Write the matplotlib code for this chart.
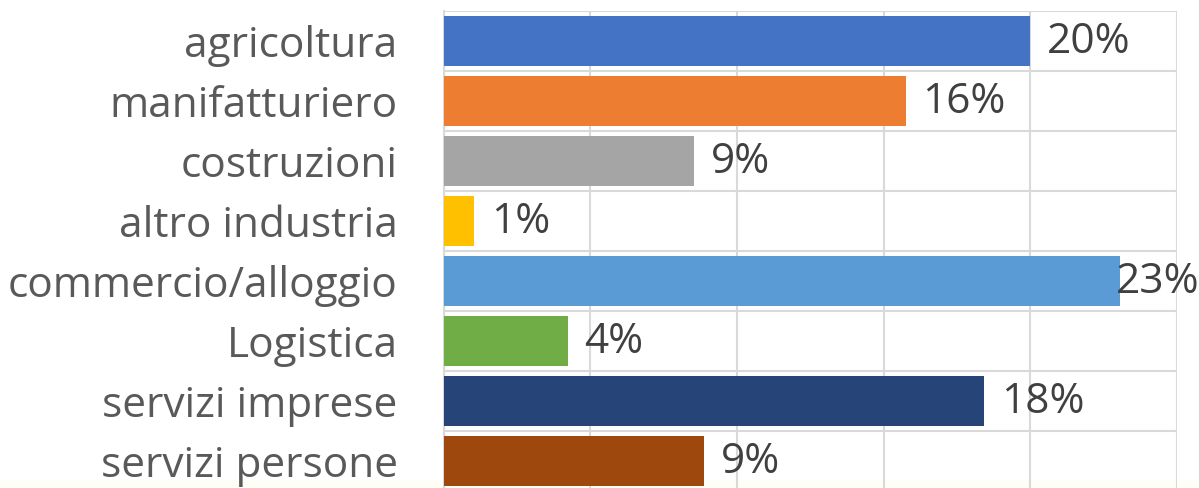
import matplotlib.pyplot as plt
from matplotlib.patches import Rectangle
from matplotlib.ticker import MultipleLocator

categories = ['agricoltura', 'manifatturiero', 'costruzioni', 'altro industria',
              'commercio/alloggio', 'Logistica', 'servizi imprese', 'servizi persone']
values = [20.0, 15.76, 8.55, 1.04, 23.06, 4.23, 18.43, 8.89]
labels = ['20%', '16%', '9%', '1%', '23%', '4%', '18%', '9%']
colors = ['#4472C4', '#ED7D31', '#A5A5A5', '#FFC000',
          '#5B9BD5', '#70AD47', '#264478', '#9E480E']

plt.rcParams['font.family'] = ['Open Sans', 'DejaVu Sans']

fig = plt.figure(figsize=(11.99, 4.88), dpi=100)
# faint cream strip along the bottom edge (slide background)
fig.patches.append(Rectangle((0, 0), 1, 8 / 488, transform=fig.transFigure,
                             facecolor='#FEFEF6', edgecolor='none', zorder=0))

ax = fig.add_axes([443.5 / 1199, (488 - 491) / 488, (1177 - 443.5) / 1199, 480 / 488])
ax.set_facecolor('none')
ax.set_zorder(2)

y = list(range(len(categories)))
ax.barh(y, values, height=0.83, color=colors, zorder=3)

ax.set_xlim(0, 25)
ax.set_ylim(len(categories) - 0.5, -0.5)

ax.xaxis.set_major_locator(MultipleLocator(5))
ax.yaxis.set_minor_locator(MultipleLocator(1, offset=0.5))
ax.grid(axis='x', which='major', color='#D9D9D9', lw=1.5, zorder=0)
ax.grid(axis='y', which='minor', color='#D9D9D9', lw=1.5, zorder=0)
ax.tick_params(axis='x', length=0, labelbottom=False)
ax.tick_params(axis='y', which='both', length=0, pad=33, labelsize=30.5, labelcolor='#595959')
ax.set_yticks(y)
ax.set_yticklabels(categories)

for s in ['top', 'right', 'bottom']:
    ax.spines[s].set_visible(False)
ax.spines['left'].set_color('#D9D9D9')
ax.spines['left'].set_linewidth(1.5)

for yi, v, lab in zip(y, values, labels):
    dx = 12 if v < 22 else -3
    ax.annotate(lab, (v, yi), xytext=(dx, -1), textcoords='offset points',
                va='center', ha='left', fontsize=30.5, color='#404040',
                annotation_clip=False, zorder=4)

fig.savefig('out.png', dpi=100)
